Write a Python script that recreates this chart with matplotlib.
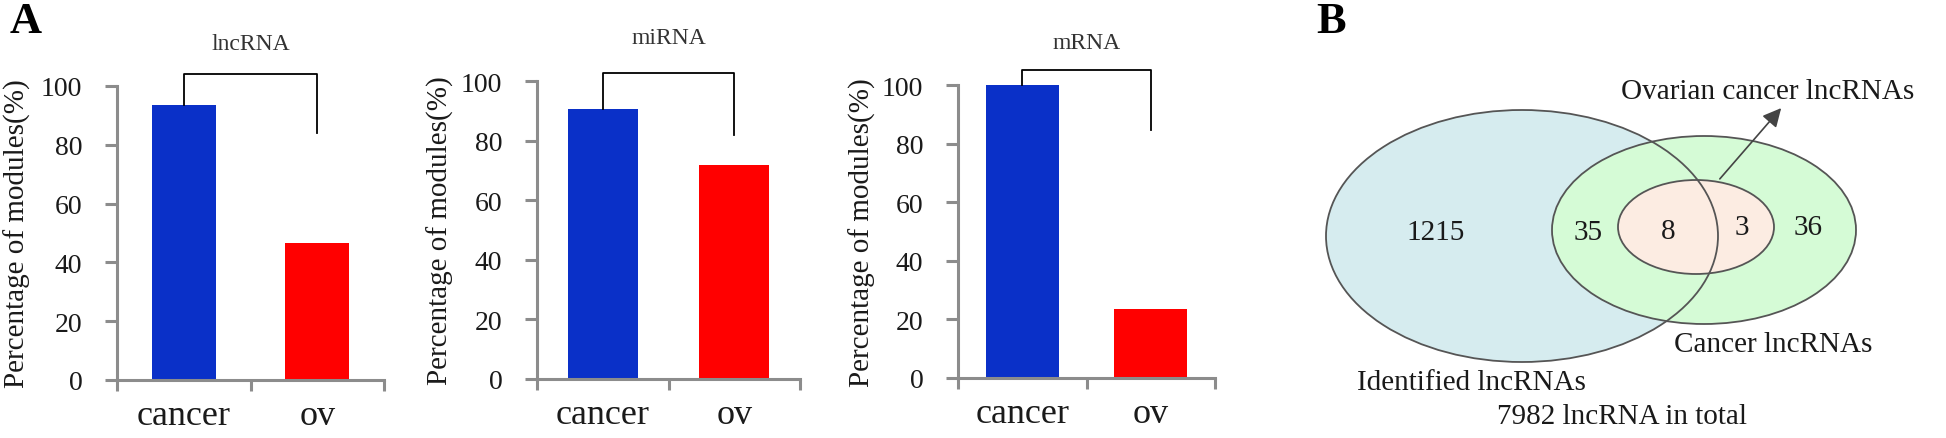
import matplotlib.pyplot as plt
from matplotlib.patches import Ellipse

plt.rcParams['font.family'] = ['Liberation Serif', 'DejaVu Serif']

# ---- panel A data ----
rna_types = ['lncRNA', 'miRNA', 'mRNA']
groups = ['cancer', 'ov']
cancer_pct = [93.5, 90.6, 100.0]
ov_pct = [46.5, 71.8, 23.5]
bracket_top = [104, 102.7, 105]
bracket_end = [84, 82, 84.5]
yticks = [0, 20, 40, 60, 80, 100]

# ---- panel B data ----
venn_names = ['Identified lncRNAs', 'Cancer lncRNAs', 'Ovarian cancer lncRNAs']
venn_counts = ['1215', '35', '8', '3', '36']
total_label = '7982 lncRNA in total'

# layout (pixels in the 1946x439 canvas)
W, H = 1946, 439
ax_left = [117, 537, 958]
ax_right = [384, 800, 1215]
ax_y0 = [381, 380, 379]
ax_y100 = [87, 82, 86]
bar_widths = [0.48, 0.53, 0.57]
ylabel_x = [17, 440, 862]

blue = '#0a30c8'
red = '#ff0000'
axis_gray = '#8c8c8c'
txt = '#1a1a1a'

fig = plt.figure(figsize=(W / 100, H / 100), dpi=100)

for i, name in enumerate(rna_types):
    l, r, y0, y1 = ax_left[i], ax_right[i], ax_y0[i], ax_y100[i]
    ax = fig.add_axes([l / W, 1 - y0 / H, (r - l) / W, (y0 - y1) / H])
    vals = [cancer_pct[i], ov_pct[i]]
    ax.bar([0.5, 1.5], vals, width=bar_widths[i], color=[blue, red])
    ax.set_xlim(0, 2)
    ax.set_ylim(0, 100)
    for s in ['top', 'right']:
        ax.spines[s].set_visible(False)
    for s in ['left', 'bottom']:
        ax.spines[s].set_color(axis_gray)
        ax.spines[s].set_linewidth(2.2)
    ax.set_yticks(yticks)
    ax.set_xticks([0, 1, 2])
    ax.set_xticklabels([])
    ax.set_xticks([0.5, 1.5], minor=True)
    ax.set_xticklabels(groups, minor=True)
    ax.tick_params(axis='y', direction='out', length=9, width=2.2, color=axis_gray,
                   labelsize=20, labelcolor=txt, pad=16)
    ax.tick_params(axis='x', which='major', direction='out', length=8, width=2.2,
                   color=axis_gray)
    ax.tick_params(axis='x', which='minor', length=0, labelsize=26, labelcolor=txt, pad=14)
    # bracket between the two bars
    ax.plot([0.5, 0.5, 1.5, 1.5], [vals[0], bracket_top[i], bracket_top[i], bracket_end[i]],
            color='black', lw=1.3, clip_on=False)
    ax.text(0.5, 1.145, name, transform=ax.transAxes, ha='center', va='center',
            fontsize=17, color='#333333')
    fig.text(ylabel_x[i] / W, 1 - (y0 + y1) / 2 / H, 'Percentage of modules(%)',
             rotation=90, ha='center', va='center', fontsize=21, color=txt)

fig.text(10 / W, 1 - 22 / H, 'A', fontsize=32, fontweight='bold', ha='left', va='center')
fig.text(1316 / W, 1 - 22 / H, 'B', fontsize=32, fontweight='bold', ha='left', va='center')

# ---- Venn diagram, drawn in pixel coordinates ----
vax = fig.add_axes([0, 0, 1, 1])
vax.set_xlim(0, W)
vax.set_ylim(H, 0)
vax.axis('off')

ell_center = [(1522, 237), (1704, 231), (1696, 228)]
ell_size = [(392, 252), (304, 188), (156, 94)]
ell_fill = ['#d6ecef', '#d5fbd6', '#fcece2']
edge = '#555555'

vax.add_patch(Ellipse(ell_center[0], *ell_size[0], facecolor=ell_fill[0], edgecolor='none'))
vax.add_patch(Ellipse(ell_center[1], *ell_size[1], facecolor=ell_fill[1], edgecolor=edge, lw=1.3))
vax.add_patch(Ellipse(ell_center[2], *ell_size[2], facecolor=ell_fill[2], edgecolor=edge, lw=1.3))
vax.add_patch(Ellipse(ell_center[0], *ell_size[0], facecolor='none', edgecolor=edge, lw=1.3))

count_pos = [(1436, 233), (1588, 233), (1668, 232), (1742, 228), (1808, 228)]
for c, (x, y) in zip(venn_counts, count_pos):
    vax.text(x, y, c, ha='center', va='center', fontsize=21, color=txt)

name_pos = [(1471, 383), (1773, 345), (1768, 92)]
for n, (x, y) in zip(venn_names, name_pos):
    vax.text(x, y, n, ha='center', va='center', fontsize=21, color=txt)
vax.text(1622, 417, total_label, ha='center', va='center', fontsize=21, color=txt)

vax.annotate('', xy=(1783, 107), xytext=(1718, 182),
             arrowprops=dict(arrowstyle='-|>', color='#444444', lw=1.2, mutation_scale=28))

fig.savefig('out.png', dpi=100)
